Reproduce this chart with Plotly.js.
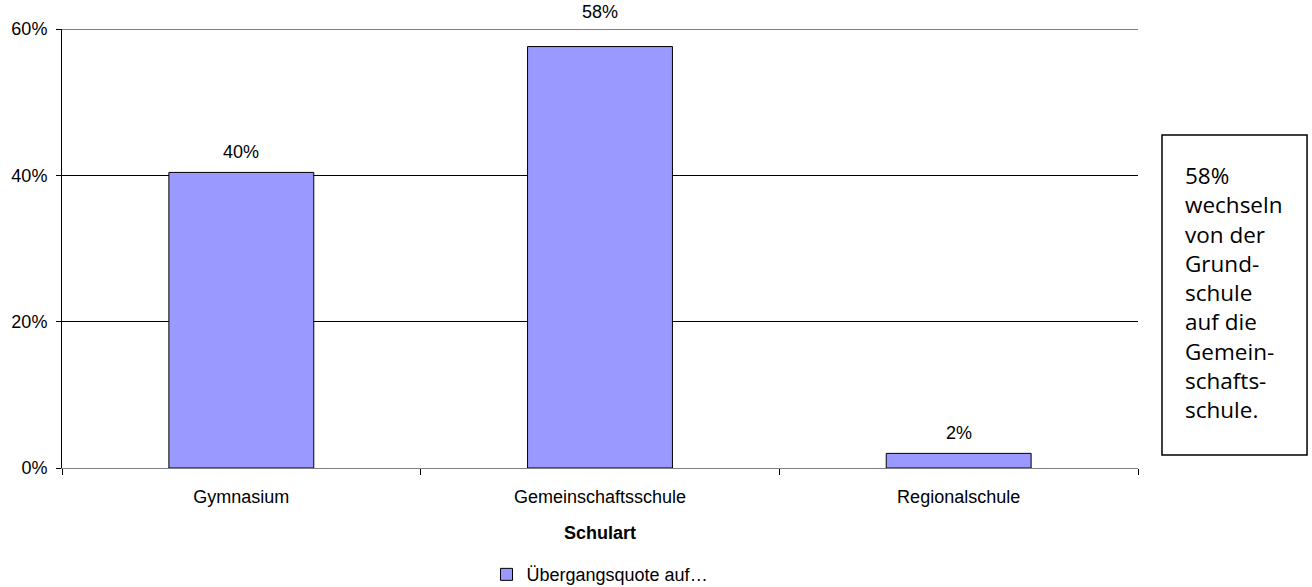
<!DOCTYPE html>
<html>
<head>
<meta charset="utf-8">
<script src="https://cdn.plot.ly/plotly-3.0.1.min.js"></script>
<style>html,body{margin:0;padding:0;background:#fff;}#chart{width:1312px;height:587px;}</style>
</head>
<body>
<div id="chart"></div>
<script>
const categories = ["Gymnasium", "Gemeinschaftsschule", "Regionalschule"];
const values = [0.404, 0.576, 0.02];
const seriesName = "Übergangsquote auf…";
const xTitle = "Schulart";
const yTicks = [0, 0.2, 0.4, 0.6];
const noteLines = ["58%", "wechseln", "von der", "Grund-", "schule", "auf die", "Gemein-", "schafts-", "schule."];

const font = "Liberation Sans, Arial, sans-serif";
const fs = 18;
const yMax = yTicks[yTicks.length - 1];

const trace = {
  type: "bar",
  x: categories,
  y: values,
  name: seriesName,
  marker: {color: "#9999FF", line: {color: "#000000", width: 1}},
  showlegend: true,
  hoverinfo: "skip"
};

// value labels; a label that would touch the top gridline is lifted above it
const valueLabels = categories.map((c, i) => ({
  x: c, y: values[i], xref: "x", yref: "y",
  text: Math.round(values[i] * 100) + "%",
  showarrow: false, yanchor: "bottom",
  yshift: (yMax - values[i]) < 0.05 ? 23 : 8,
  font: {family: font, size: fs, color: "#000"}
}));

const layout = {
  width: 1312, height: 587,
  margin: {l: 62, r: 174, t: 29, b: 119, autoexpand: false},
  paper_bgcolor: "#fff", plot_bgcolor: "#fff",
  font: {family: font, size: fs, color: "#000"},
  bargap: 0.596,
  showlegend: true,
  legend: {orientation: "h", x: 0.5, xanchor: "center", xref: "paper",
           y: 0.021, yanchor: "middle", yref: "container",
           font: {family: font, size: fs, color: "#000"}, itemwidth: 30},
  xaxis: {
    type: "category", automargin: false,
    showline: true, linecolor: "#808080", linewidth: 1,
    ticks: "outside", tickson: "boundaries", ticklen: 6, tickcolor: "#000", tickwidth: 1,
    ticklabelstandoff: 12,
    showgrid: false, zeroline: false,
    tickfont: {family: font, size: fs, color: "#000"},
    title: {text: xTitle, font: {family: font, size: fs, color: "#000", weight: "bold"}, standoff: 20}
  },
  yaxis: {
    range: [0, yMax], tickvals: yTicks, tickformat: ".0%", automargin: false,
    showline: true, linecolor: "#000", linewidth: 1,
    ticks: "outside", ticklen: 5, tickcolor: "#000",
    ticklabelstandoff: 5,
    showgrid: true, gridcolor: "#000", gridwidth: 1, zeroline: false,
    tickfont: {family: font, size: fs, color: "#000"}
  },
  shapes: [
    {type: "line", xref: "paper", yref: "y", x0: 0, x1: 1, y0: yMax, y1: yMax,
     line: {color: "#000", width: 1}},
    {type: "rect", xref: "paper", yref: "paper",
     x0: 1.0223, x1: 1.1571, y0: 0.0296, y1: 0.7585,
     line: {color: "#000", width: 1.5}, fillcolor: "rgba(0,0,0,0)"}
  ],
  annotations: valueLabels.concat([{
    xref: "paper", yref: "paper", x: 1.0418, y: 0.7066,
    xanchor: "left", yanchor: "top", align: "left", showarrow: false,
    text: noteLines.join("<br>"),
    font: {family: "Open Sans, sans-serif", size: 22.5, color: "#000"}
  }])
};

Plotly.newPlot("chart", [trace], layout, {displayModeBar: false, staticPlot: true});
</script>
</body>
</html>
